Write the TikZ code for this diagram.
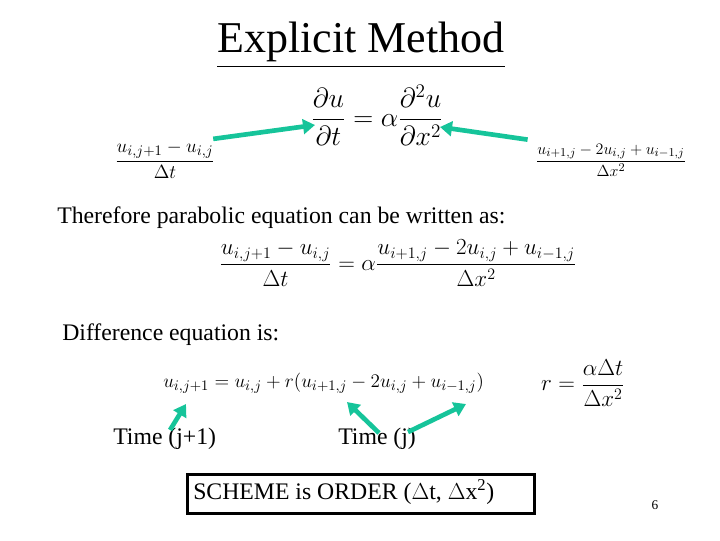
\documentclass[tikz,border=0pt]{standalone}
\usepackage{fontspec}
\setmainfont{Liberation Serif}
\usepackage{amsmath}
\definecolor{teal1}{RGB}{22,196,154}
\usetikzlibrary{arrows.meta}
\tikzset{
  arr/.style={teal1, line width=3.5pt, -{Triangle[length=9pt,width=11pt]}},
  txt/.style={font=\fontsize{17.8}{20}\selectfont, inner sep=0pt},
  eq/.style={inner sep=0pt},
}
\begin{document}
\begin{tikzpicture}[x=0.75pt,y=-0.75pt]
\useasboundingbox (0,0) rectangle (720,540);
\node[inner sep=0pt,font=\fontsize{33}{36}\selectfont] (title) at (361,45) {\underline{Explicit Method}};
\node[eq,font=\fontsize{20}{24}\selectfont] (pde) at (377,115) {$\dfrac{\partial u}{\partial t}=\alpha\dfrac{\partial^2 u}{\partial x^2}$};
\node[eq,font=\fontsize{15.8}{18}\selectfont] (lf) at (165,160) {$\dfrac{u_{i,j+1}-u_{i,j}}{\Delta t}$};
\node[eq,font=\fontsize{12.5}{15}\selectfont] (rf) at (611,160) {$\dfrac{u_{i+1,j}-2u_{i,j}+u_{i-1,j}}{\Delta x^2}$};
\coordinate (la) at (315,125);
\coordinate (ra) at (440,127);
\draw[arr] (lf.north east) ++(-2,-2) -- (la);
\draw[arr] (rf.north west) ++(-8,-4) -- (ra);
\node[txt,anchor=west] (t1) at (57,218) {Therefore parabolic equation can be written as:};
\node[eq,font=\fontsize{16.8}{20}\selectfont] (meq) at (398,263) {$\dfrac{u_{i,j+1}-u_{i,j}}{\Delta t}=\alpha\dfrac{u_{i+1,j}-2u_{i,j}+u_{i-1,j}}{\Delta x^2}$};
\node[txt,anchor=west] (t2) at (62,335) {Difference equation is:};
\node[eq,font=\fontsize{15.5}{18}\selectfont,anchor=west] (beq) at (163,383) {$u_{i,j+1}=u_{i,j}+r(u_{i+1,j}-2u_{i,j}+u_{i-1,j})$};
\node[eq,font=\fontsize{16.5}{18}\selectfont] (req) at (583,383) {$r=\dfrac{\alpha\Delta t}{\Delta x^2}$};
\node[txt,anchor=west] (tj1) at (113,439) {Time (j+1)};
\node[txt,anchor=west] (tj) at (338,439) {Time (j)};
\coordinate (a1) at (186,404);
\coordinate (a2) at (347,402);
\coordinate (a3) at (466,404);
\draw[arr] (170,430) -- (a1);
\draw[arr] (379,433) -- (a2);
\draw[arr] (408,432) -- (a3);
\node[draw,line width=2.2pt,inner sep=0pt,minimum width=260pt,minimum height=29pt,anchor=north west] (box) at (186,473) {};
\node[txt,anchor=west] (bt) at (193,492) {SCHEME is ORDER ($\Delta$t, $\Delta$x\textsuperscript{2})};
\node[inner sep=0pt,font=\fontsize{10}{12}\selectfont] (pg) at (655,505) {6};
\end{tikzpicture}
\end{document}
